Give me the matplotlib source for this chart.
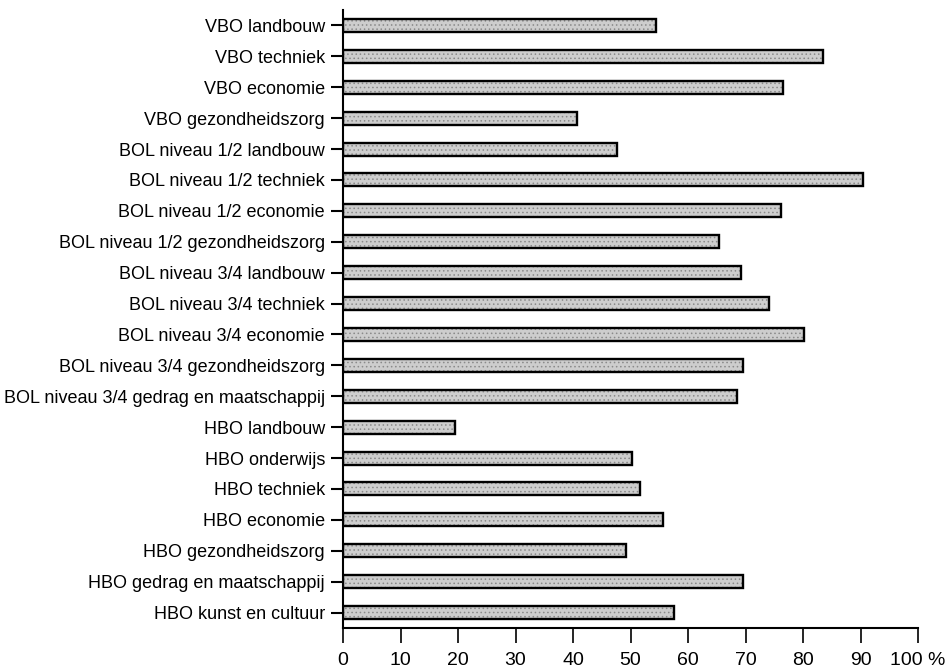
import matplotlib
matplotlib.use("Agg")
import matplotlib.pyplot as plt
from matplotlib import font_manager
from matplotlib.transforms import ScaledTranslation

categories = [
    "VBO landbouw",
    "VBO techniek",
    "VBO economie",
    "VBO gezondheidszorg",
    "BOL niveau 1/2 landbouw",
    "BOL niveau 1/2 techniek",
    "BOL niveau 1/2 economie",
    "BOL niveau 1/2 gezondheidszorg",
    "BOL niveau 3/4 landbouw",
    "BOL niveau 3/4 techniek",
    "BOL niveau 3/4 economie",
    "BOL niveau 3/4 gezondheidszorg",
    "BOL niveau 3/4 gedrag en maatschappij",
    "HBO landbouw",
    "HBO onderwijs",
    "HBO techniek",
    "HBO economie",
    "HBO gezondheidszorg",
    "HBO gedrag en maatschappij",
    "HBO kunst en cultuur",
]
values = [54.4, 83.4, 76.5, 40.7, 47.7, 90.5, 76.2, 65.4, 69.2, 74.1,
          80.2, 69.5, 68.5, 19.4, 50.2, 51.7, 55.6, 49.3, 69.5, 57.6]
xticks = [0, 10, 20, 30, 40, 50, 60, 70, 80, 90, 100]
xticklabels = ["0", "10", "20", "30", "40", "50", "60", "70", "80", "90", "100 %"]

# narrow font if installed, else Arial-like Liberation Sans
names = set(f.name for f in font_manager.fontManager.ttflist)
fam = "Liberation Sans"
for cand in ["Liberation Sans Narrow", "DejaVu Sans Condensed"]:
    if cand in names:
        fam = cand
        break
plt.rcParams["font.family"] = [fam, "DejaVu Sans"]
plt.rcParams["hatch.linewidth"] = 0.6

fig = plt.figure(figsize=(9.46, 6.70), dpi=100)
ax = fig.add_axes([0.3626, 0.0627, 0.9704 - 0.3626, 0.985 - 0.0627])

pos = list(range(len(categories)))
# stippled gray fill, then black outline on top
ax.barh(pos, values, height=0.42, color="#cdcdcd", edgecolor="#8a8a8a",
        hatch="....", linewidth=0)
ax.barh(pos, values, height=0.42, facecolor="none", edgecolor="black",
        linewidth=1.7)

ax.set_ylim(len(categories) - 0.5, -0.5)
ax.set_xlim(0, 100)
ax.set_yticks(pos)
ax.set_yticklabels(categories, fontsize=13)
ax.set_xticks(xticks)
ax.set_xticklabels(xticklabels, fontsize=14)

# "100 %": keep the number roughly under its tick
lab = ax.get_xticklabels()[-1]
lab.set_transform(lab.get_transform() + ScaledTranslation(14 / 100, 0, fig.dpi_scale_trans))

for s in ["top", "right"]:
    ax.spines[s].set_visible(False)
for s in ["left", "bottom"]:
    ax.spines[s].set_linewidth(1.5)

ax.tick_params(axis="y", direction="out", length=9, width=1.5, pad=4)
ax.tick_params(axis="x", direction="out", length=11, width=1.2, pad=6)

fig.savefig("out.png", dpi=100)
